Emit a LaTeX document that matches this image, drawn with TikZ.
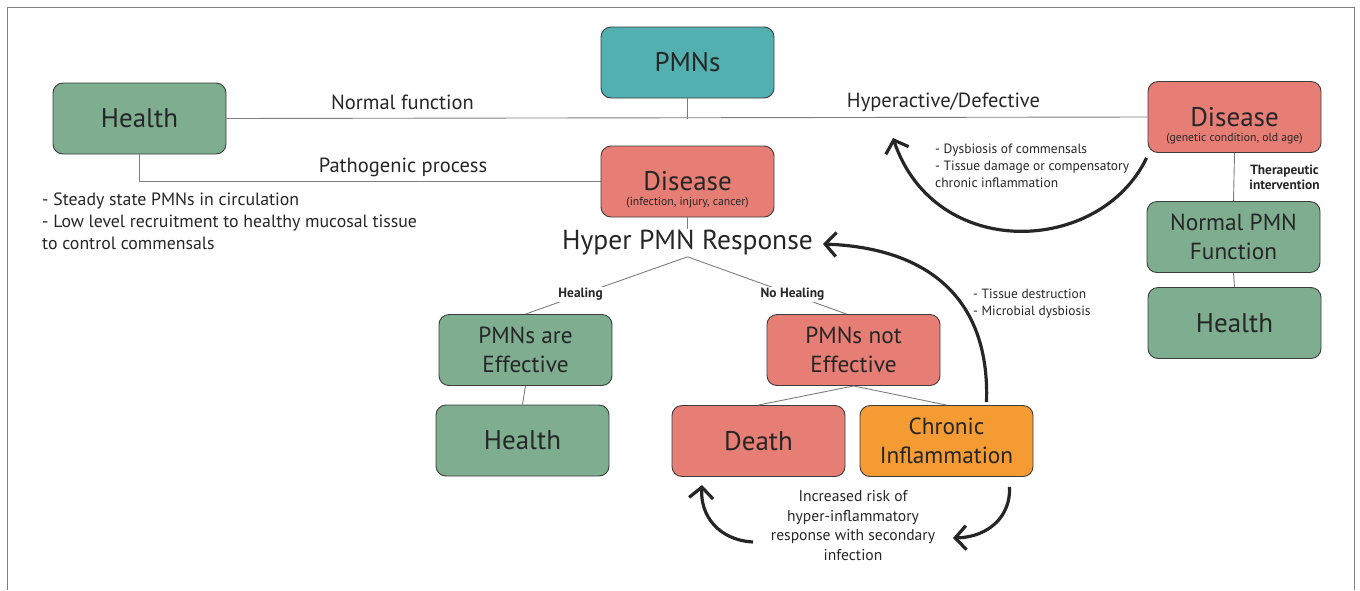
\documentclass[tikz,border=0pt]{standalone}
\usepackage{fontspec}
\setmainfont{PT Sans}
\usetikzlibrary{arrows.meta}
\definecolor{healthgreen}{RGB}{126,174,143}
\definecolor{pmnteal}{RGB}{82,176,176}
\definecolor{diseasered}{RGB}{231,126,117}
\definecolor{chronicorange}{RGB}{245,155,52}
\definecolor{linkgray}{RGB}{125,125,125}
\definecolor{inkgray}{RGB}{38,38,38}
\newcommand{\fs}[2]{\fontsize{#1}{#2}\selectfont}
\tikzset{%
  box/.style={draw=inkgray!90,line width=0.9pt,rounded corners=10pt,
    minimum width=173pt,minimum height=71pt,inner sep=0pt,
    text=inkgray,font=\fs{27}{30}},
  health box/.style={box,fill=healthgreen},
  pmn box/.style={box,fill=pmnteal},
  disease box/.style={box,fill=diseasered},
  chronic box/.style={box,fill=chronicorange},
  two lines/.style={align=center,font=\fs{23.3}{29}},
  sub note/.style={text=inkgray,font=\fs{11.7}{12},inner sep=0pt},
  path label/.style={text=inkgray,font=\fs{20.5}{22},inner sep=0pt},
  note/.style={text=inkgray,align=left,inner sep=0pt},
  branch/.style={text=inkgray,font=\bfseries\fs{13.4}{15},fill=white,inner sep=1pt},
  link/.style={draw=linkgray,line width=0.9pt},
  loop arrow/.style={draw=inkgray,line width=3.2pt,
    -{Straight Barb[length=11pt,width=24pt,line width=3.2pt]}},
  frame/.style={draw=gray,line width=1.6pt},
}
\begin{document}
\begin{tikzpicture}[x=1pt,y=-1pt]
  \useasboundingbox (0,0) rectangle (1360,590);
  % frame, open at the bottom
  \draw[frame] (7.5,590) -- (7.5,7.5) -- (1354.5,7.5) -- (1354.5,590);

  % top row
  \node[health box] (health) at (139.5,118.5) {Health};
  \node[pmn box] (pmns) at (687.5,62.5) {PMNs};
  \node[disease box] (chronicdisease) at (1234.5,117) {Disease};
  \node[sub note] (chronicwhy) at ([yshift=14.5pt]chronicdisease.south) {(genetic condition, old age)};
  \node[disease box] (acutedisease) at (687.5,181.5) {Disease};
  \node[sub note] (acutewhy) at ([yshift=14.5pt]acutedisease.south) {(infection, injury, cancer)};

  % right column
  \node[health box,two lines] (normalpmn) at (1233.5,237) {Normal PMN\\Function};
  \node[health box] (healthright) at (1234.5,323) {Health};

  % response tree
  \node[text=inkgray,font=\fs{27.5}{30},inner sep=1pt] (hyper) at (687.5,243) {Hyper PMN Response};
  \node[health box,two lines] (effective) at (525.5,350) {PMNs are\\Effective};
  \node[health box] (healthbottom) at (522.5,440.5) {Health};
  \node[disease box,two lines] (noteffective) at (853.5,350) {PMNs not\\Effective};
  \node[disease box] (death) at (758.5,441) {Death};
  \node[chronic box,two lines] (chronic) at (946.5,441) {Chronic\\Inflammation};

  % connectors
  \draw[link] (health.east) -- (chronicdisease.west);
  \draw[link] (pmns.south) -- (pmns.south |- health.east);
  \draw[link] (health.south) |- (acutedisease.west);
  \draw[link] (acutedisease.south) -- (hyper.north);
  \draw[link] (hyper.south) -- node[branch,pos=0.66] {Healing} (effective.north);
  \draw[link] (hyper.south) -- node[branch,pos=0.66] {No Healing} ([xshift=-7pt]noteffective.north);
  \draw[link] (effective.south) -- (healthbottom.north);
  \draw[link] (noteffective.south) -- (death.north);
  \draw[link] (noteffective.south) -- (chronic.north);
  \draw[link] (chronicdisease.south) -- (normalpmn.north);
  \draw[link] (normalpmn.south) -- (healthright.north);

  % texts along the lines
  \node[path label] (normalfn) at (402.5,102) {Normal function};
  \node[path label] (hyperdef) at (943.5,102) {Hyperactive/Defective};
  \node[path label] (pathogenic) at (403,167) {Pathogenic process};
  \node[note,font=\bfseries\fs{13.4}{15},align=center] (therapy) at (1284.5,177) {Therapeutic\\intervention};
  \node[note,font=\fs{17.8}{22},anchor=west] (steady) at (42,221)
    {- Steady state PMNs in circulation\\- Low level recruitment to healthy mucosal tissue\\to control commensals};
  \node[note,font=\fs{13.5}{17},anchor=west] (dysbiosis) at (935,166)
    {- Dysbiosis of commensals\\- Tissue damage or compensatory\\chronic inflammation};
  \node[note,font=\fs{13.4}{17},anchor=west] (destruction) at (973,303.5)
    {- Tissue destruction\\- Microbial dysbiosis};
  \node[note,font=\fs{15.6}{19.6},align=center] (risk) at (853,525.5)
    {Increased risk of\\hyper-inflammatory\\response with secondary\\infection};

  % loop ends
  \coordinate (dysbiosistip) at (893,138);
  \coordinate (hypertip) at (823,244);
  \coordinate (risktip) at (953,538);
  \coordinate (riskstart) at (753,542);
  \coordinate (deathtip) at (702,485);

  % loops
  \draw[loop arrow] (chronicdisease.south west)++(-1,5) .. controls (1100,255) and (935,262) .. (dysbiosistip);
  \draw[loop arrow] ([xshift=40pt,yshift=3pt]chronic.north) .. controls (990,300) and (930,248) .. (hypertip);
  \draw[loop arrow] ([xshift=63pt,yshift=-10pt]chronic.south) .. controls (1011,515) and (990,537) .. (risktip);
  \draw[loop arrow] (riskstart) .. controls (718,540) and (700,515) .. (deathtip);
\end{tikzpicture}
\end{document}
